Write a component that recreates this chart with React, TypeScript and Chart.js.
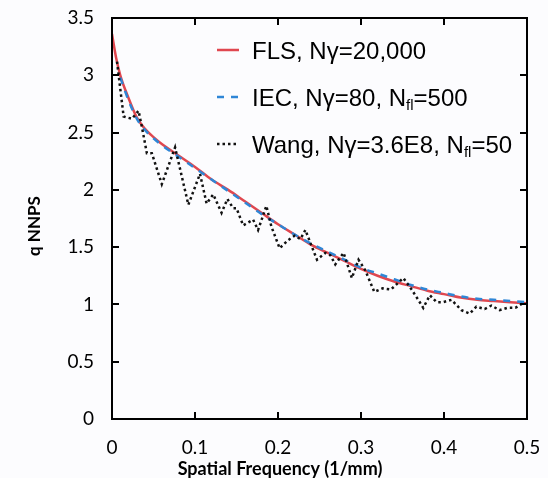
import React, { useEffect, useRef } from 'react';
import { Chart, registerables } from 'chart.js';

Chart.register(...registerables);

// ---- data ----
const flsFreq = [0, 0.005, 0.01, 0.02, 0.03, 0.04, 0.05, 0.06, 0.08, 0.1, 0.12, 0.14, 0.16, 0.18, 0.2, 0.22, 0.24, 0.26, 0.28, 0.3, 0.32, 0.34, 0.36, 0.38, 0.4, 0.42, 0.44, 0.46, 0.48, 0.5];
const flsNNPS = [3.36, 3.15, 3.0, 2.8, 2.63, 2.53, 2.46, 2.4, 2.3, 2.2, 2.09, 2.0, 1.9, 1.8, 1.7, 1.61, 1.52, 1.45, 1.38, 1.31, 1.25, 1.2, 1.16, 1.12, 1.09, 1.06, 1.04, 1.03, 1.02, 1.01];

const iecFreq = [0.01, 0.02, 0.03, 0.04, 0.05, 0.06, 0.08, 0.1, 0.12, 0.14, 0.16, 0.18, 0.2, 0.22, 0.24, 0.26, 0.28, 0.3, 0.32, 0.34, 0.36, 0.38, 0.4, 0.42, 0.44, 0.46, 0.48, 0.5];
const iecNNPS = [2.98, 2.78, 2.62, 2.52, 2.45, 2.39, 2.29, 2.19, 2.09, 1.99, 1.89, 1.79, 1.7, 1.61, 1.53, 1.46, 1.39, 1.32, 1.27, 1.22, 1.17, 1.13, 1.1, 1.07, 1.05, 1.04, 1.03, 1.02];

const wangFreq = [0.006, 0.014, 0.024, 0.032, 0.036, 0.042, 0.048, 0.06, 0.076, 0.092, 0.106, 0.114, 0.122, 0.132, 0.139, 0.146, 0.15, 0.158, 0.17, 0.176, 0.186, 0.192, 0.202, 0.212, 0.22, 0.227, 0.233, 0.241, 0.247, 0.257, 0.263, 0.269, 0.279, 0.289, 0.297, 0.305, 0.316, 0.326, 0.336, 0.345, 0.351, 0.361, 0.369, 0.375, 0.383, 0.391, 0.399, 0.409, 0.421, 0.431, 0.439, 0.449, 0.457, 0.467, 0.476, 0.486, 0.495];
const wangNNPS = [3.12, 2.64, 2.62, 2.69, 2.55, 2.32, 2.32, 2.05, 2.37, 1.87, 2.14, 1.88, 1.96, 1.8, 1.92, 1.84, 1.84, 1.69, 1.74, 1.65, 1.86, 1.68, 1.49, 1.56, 1.6, 1.57, 1.65, 1.5, 1.39, 1.45, 1.43, 1.35, 1.45, 1.23, 1.39, 1.3, 1.11, 1.14, 1.13, 1.19, 1.23, 1.13, 1.04, 0.97, 1.08, 1.02, 1.02, 1.04, 0.95, 0.92, 0.98, 0.96, 0.99, 0.95, 0.97, 0.97, 1.01];

const xTicks = [0, 0.1, 0.2, 0.3, 0.4, 0.5];
const yTicks = [0, 0.5, 1, 1.5, 2, 2.5, 3, 3.5];

const xTitle = 'Spatial Frequency (1/mm)';
const yTitle = 'q NNPS';

type Part = { t: string; sub?: boolean };
const legendItems: { parts: Part[]; color: string; dash: number[] }[] = [
  { parts: [{ t: 'FLS, N\u03B3=20,000' }], color: '#e0474f', dash: [] },
  { parts: [{ t: 'IEC, N\u03B3=80, N' }, { t: 'fl', sub: true }, { t: '=500' }], color: '#2f86d6', dash: [7, 7] },
  { parts: [{ t: 'Wang, N\u03B3=3.6E8, N' }, { t: 'fl', sub: true }, { t: '=50' }], color: '#111111', dash: [2.5, 3] },
];

const zip = (xs: number[], ys: number[]) => xs.map((x, i) => ({ x, y: ys[i] }));

const TICK_FONT = 'Lato, "Open Sans", sans-serif';

const zeroPad = (s: any) => {
  s.paddingLeft = 0;
  s.paddingRight = 0;
  s.paddingTop = 0;
  s.paddingBottom = 0;
};

const decorPlugin = {
  id: 'decor',
  afterDraw(chart: any) {
    const ctx: CanvasRenderingContext2D = chart.ctx;
    const { left, right, top, bottom } = chart.chartArea;
    const xs = chart.scales.x;
    const ys = chart.scales.y;
    ctx.save();
    // frame
    ctx.strokeStyle = '#000';
    ctx.lineWidth = 2;
    ctx.setLineDash([]);
    ctx.strokeRect(left, top, right - left, bottom - top);
    // inward ticks
    const tl = 7;
    ctx.beginPath();
    xTicks.forEach((v) => {
      const px = Math.round(xs.getPixelForValue(v));
      ctx.moveTo(px, bottom);
      ctx.lineTo(px, bottom - tl);
      ctx.moveTo(px, top);
      ctx.lineTo(px, top + tl);
    });
    yTicks.forEach((v) => {
      const py = Math.round(ys.getPixelForValue(v));
      ctx.moveTo(left, py);
      ctx.lineTo(left + tl, py);
      ctx.moveTo(right, py);
      ctx.lineTo(right - tl, py);
    });
    ctx.stroke();

    // axis titles
    ctx.fillStyle = '#000';
    ctx.font = 'bold 18px ' + TICK_FONT;
    ctx.textAlign = 'center';
    ctx.textBaseline = 'alphabetic';
    ctx.fillText(xTitle, 280, 475);
    ctx.save();
    ctx.translate(40, 226);
    ctx.rotate(-Math.PI / 2);
    ctx.font = 'bold 17px ' + TICK_FONT;
    ctx.fillText(yTitle, 0, 0);
    ctx.restore();

    // legend
    const baseFont = '24px "Liberation Sans", Arial, sans-serif';
    const subFont = '15px "Liberation Sans", Arial, sans-serif';
    ctx.textAlign = 'left';
    ctx.textBaseline = 'alphabetic';
    legendItems.forEach((it, i) => {
      const base = 59 + i * 47;
      const ly = base - 9;
      ctx.beginPath();
      ctx.strokeStyle = it.color;
      ctx.lineWidth = 2.5;
      ctx.setLineDash(it.dash);
      ctx.moveTo(217, ly);
      ctx.lineTo(239, ly);
      ctx.stroke();
      ctx.setLineDash([]);
      let x = 252;
      it.parts.forEach((p) => {
        ctx.font = p.sub ? subFont : baseFont;
        ctx.fillText(p.t, x, p.sub ? base + 4 : base);
        x += ctx.measureText(p.t).width;
      });
    });
    ctx.restore();
  },
};

export default function App() {
  const ref = useRef<HTMLCanvasElement | null>(null);
  useEffect(() => {
    document.body.style.margin = '0';
    document.body.style.background = '#fcfcfe';
    const canvas = ref.current;
    if (!canvas) return;
    const chart = new Chart(canvas, {
      type: 'line',
      data: {
        datasets: [
          {
            label: 'FLS',
            data: zip(flsFreq, flsNNPS),
            borderColor: '#e0474f',
            borderWidth: 2.5,
            pointRadius: 0,
            cubicInterpolationMode: 'monotone',
            order: 2,
          },
          {
            label: 'IEC',
            data: zip(iecFreq, iecNNPS),
            borderColor: '#2f86d6',
            borderWidth: 2.5,
            borderDash: [7, 7],
            pointRadius: 0,
            cubicInterpolationMode: 'monotone',
            order: 1,
          },
          {
            label: 'Wang',
            data: zip(wangFreq, wangNNPS),
            borderColor: '#111111',
            borderWidth: 2.5,
            borderDash: [2.5, 3],
            pointRadius: 0,
            tension: 0,
            order: 0,
          },
        ],
      },
      options: {
        animation: false,
        responsive: true,
        maintainAspectRatio: false,
        layout: { padding: { left: 0, top: 18, right: 21, bottom: 0 } },
        plugins: { legend: { display: false }, tooltip: { enabled: false } },
        scales: {
          x: {
            type: 'linear',
            min: 0,
            max: 0.5,
            afterFit: (s: any) => { s.height = 59; zeroPad(s); },
            afterBuildTicks: (s: any) => { s.ticks = xTicks.map((v) => ({ value: v })); },
            grid: { display: false, drawTicks: false },
            border: { display: false },
            ticks: {
              padding: 17,
              color: '#000',
              font: { family: TICK_FONT, size: 19 },
              callback: (v: any) => String(Math.round(Number(v) * 10) / 10),
              maxRotation: 0,
            },
          },
          y: {
            type: 'linear',
            min: 0,
            max: 3.5,
            afterFit: (s: any) => { s.width = 112; zeroPad(s); },
            afterBuildTicks: (s: any) => { s.ticks = yTicks.map((v) => ({ value: v })); },
            grid: { display: false, drawTicks: false },
            border: { display: false },
            ticks: {
              padding: 18,
              color: '#000',
              font: { family: TICK_FONT, size: 19 },
              callback: (v: any) => String(Math.round(Number(v) * 10) / 10),
            },
          },
        },
      },
      plugins: [decorPlugin],
    });
    return () => chart.destroy();
  }, []);
  return (
    <div style={{ position: 'absolute', left: 0, top: 0, width: 548, height: 478 }}>
      <canvas ref={ref} />
    </div>
  );
}
